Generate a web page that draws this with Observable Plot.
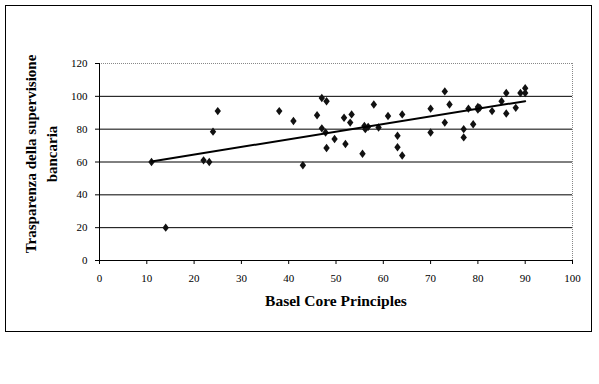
<!DOCTYPE html>
<html>
<head>
<meta charset="utf-8">
<script src="https://cdn.jsdelivr.net/npm/d3@7"></script>
<script src="https://cdn.jsdelivr.net/npm/@observablehq/plot@0.6"></script>
<style>
  html, body { margin: 0; padding: 0; background: #fff; }
  #wrap { position: relative; width: 599px; height: 384px; }
  #border { position: absolute; left: 5px; top: 5px; width: 587px; height: 327px; box-sizing: border-box; border: 1px solid #000; pointer-events: none; }
  #wrap svg, #wrap svg text, #wrap svg tspan { font-family: "Liberation Serif", "Times New Roman", serif !important; }
</style>
</head>
<body>
<div id="wrap"><div id="border"></div></div>
<script>
// Basel Core Principles (x) vs Trasparenza della supervisione bancaria (y)
const basel = [11, 14, 22, 23.2, 24, 25, 38, 41, 43, 46, 47, 48, 47, 47.8, 48, 49.7, 51.7, 52, 53, 53.3,
  55.6, 56, 56.2, 56.8, 58, 59, 61, 63, 63, 64, 64, 70, 70, 73, 73, 74, 77, 77, 78, 79,
  80, 80, 80.4, 83, 85, 86, 86, 88, 89, 90, 90];
const trasparenza = [60, 20, 61, 60, 78.5, 91, 91, 85, 58, 88.5, 99, 97, 80.5, 78, 68.5, 74, 87, 71, 84, 89,
  65, 82, 80, 81.4, 95, 81, 88, 76, 69, 89, 64, 92.5, 78, 103, 84, 95, 80, 75, 92.5, 83,
  93.5, 92, 93, 91, 97, 102, 89.5, 93, 102, 105, 102];
const xTicks = [0, 10, 20, 30, 40, 50, 60, 70, 80, 90, 100];
const yTicks = [0, 20, 40, 60, 80, 100, 120];
const gridY = [20, 40, 60, 80, 100];

const data = basel.map((x, i) => ({x, y: trasparenza[i]}));

const diamond = {
  draw(context, size) {
    const w = 3.2, h = 4.2;
    context.moveTo(0, -h);
    context.lineTo(w, 0);
    context.lineTo(0, h);
    context.lineTo(-w, 0);
    context.closePath();
  }
};

const serif = "Liberation Serif, Times New Roman, serif";

const chart = Plot.plot({
  width: 599,
  height: 384,
  marginLeft: 99,
  marginRight: 27,
  marginTop: 63,
  marginBottom: 124,
  style: {fontFamily: serif, fontSize: "11px", color: "#000", background: "transparent"},
  x: {domain: [0, 100], ticks: xTicks, tickSize: 4, tickPadding: 10, label: null},
  y: {domain: [0, 120], ticks: yTicks, tickSize: 4, tickPadding: 8, label: null},
  marks: [
    Plot.ruleY(gridY, {stroke: "#000", strokeWidth: 1}),
    Plot.ruleY([120], {stroke: "#888", strokeDasharray: "1,1"}),
    Plot.ruleX([100], {stroke: "#888", strokeDasharray: "1,1"}),
    Plot.ruleY([0], {stroke: "#000"}),
    Plot.ruleX([0], {stroke: "#000"}),
    Plot.axisX({ticks: xTicks, tickSize: 4, tickPadding: 10, fontSize: 11, stroke: "#000", fontFamily: serif}),
    Plot.axisY({ticks: yTicks, tickSize: 4, tickPadding: 8, fontSize: 11, stroke: "#000", fontFamily: serif}),
    Plot.dot(data, {x: "x", y: "y", symbol: diamond, fill: "#111", stroke: "none", r: 3}),
    Plot.linearRegressionY(data, {x: "x", y: "y", ci: 0, stroke: "#000", strokeWidth: 2}),
    Plot.text(["Basel Core Principles"], {frameAnchor: "bottom", dy: 45, fontSize: 15.5, fontWeight: "bold", fill: "#000", fontFamily: serif}),
    Plot.text(["Trasparenza della supervisione\nbancaria"], {frameAnchor: "left", textAnchor: "middle", dx: -60, dy: -8, rotate: -90, fontSize: 15, fontWeight: "bold", lineHeight: 1.45, fill: "#000", fontFamily: serif})
  ]
});
document.getElementById("wrap").prepend(chart);
chart.style.position = "absolute";
chart.style.left = "0";
chart.style.top = "0";
</script>
</body>
</html>
